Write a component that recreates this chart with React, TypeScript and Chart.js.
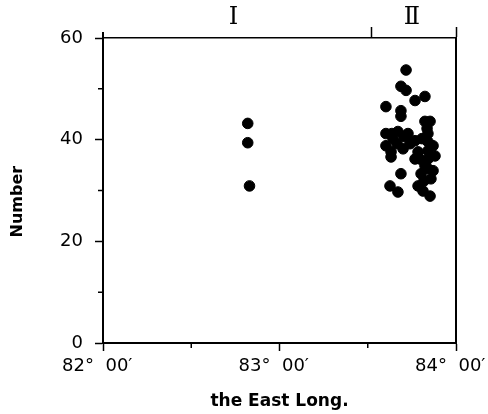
import { useEffect, useRef } from "react";
import { Chart, registerables } from "chart.js";

Chart.register(...registerables);

// Longitude in degrees (82°00' = 82.0), Number
const groupIX = [82.82, 82.82, 82.83];
const groupIY = [43.2, 39.4, 30.9];

const groupIIX = [
  83.717, 83.688, 83.717, 83.824, 83.768, 83.603, 83.688, 83.688, 83.824, 83.853,
  83.836, 83.603, 83.671, 83.728, 83.643, 83.768, 83.841, 83.841, 83.603, 83.632,
  83.7, 83.785, 83.841, 83.881, 83.632, 83.768, 83.841, 83.824, 83.841, 83.688,
  83.802, 83.858, 83.626, 83.671, 83.785, 83.813, 83.853,
  83.637, 83.705, 83.666, 83.739, 83.807, 83.87, 83.796, 83.87, 83.819,
];
const groupIIY = [
  53.7, 50.5, 49.7, 48.5, 47.7, 46.5, 45.7, 44.6, 43.6, 43.6,
  42.2, 41.2, 41.6, 41.2, 40.2, 39.8, 41.2, 39.6, 38.8, 37.6,
  38.2, 37.6, 37.8, 36.8, 36.6, 36.2, 36.2, 34.9, 34.3, 33.3,
  33.3, 32.3, 30.9, 29.7, 30.9, 29.9, 28.9,
  41.2, 40.6, 39.2, 39.2, 40.2, 38.8, 36.2, 33.9, 31.9,
];

const xMajorTicks = [82, 83, 84];
const xMinorTicks = [82.5, 83.5];
const yMajorTicks = [0, 20, 40, 60];
const yMinorTicks = [10, 30, 50];
const topLabelValues = [82.74, 83.75];
const topLabels = ["Ⅰ", "Ⅱ"];
const topTickValues = [83.52, 84];

const fmtLong = (v: number) => `${Math.round(v)}°  00′  `;

export default function App() {
  const ref = useRef<HTMLCanvasElement | null>(null);

  useEffect(() => {
    document.body.style.margin = "0";
    const canvas = ref.current;
    if (!canvas) return;

    const points = [
      ...groupIX.map((x, i) => ({ x, y: groupIY[i] })),
      ...groupIIX.map((x, i) => ({ x, y: groupIIY[i] })),
    ];

    const framePlugin = {
      id: "frame",
      afterDraw(chart: any) {
        const { ctx, chartArea, scales } = chart;
        const xs = scales.x;
        const ys = scales.y;
        ctx.save();
        ctx.strokeStyle = "#000";
        ctx.lineWidth = 2;
        ctx.beginPath();
        ctx.moveTo(chartArea.right, chartArea.top);
        ctx.lineTo(chartArea.right, chartArea.bottom);
        ctx.moveTo(chartArea.left, chartArea.top - 6);
        ctx.lineTo(chartArea.left, chartArea.top);
        ctx.stroke();
        ctx.lineWidth = 1.5;
        ctx.beginPath();
        for (const v of yMinorTicks) {
          const py = ys.getPixelForValue(v);
          ctx.moveTo(chartArea.left - 5, py);
          ctx.lineTo(chartArea.left, py);
        }
        for (const v of xMinorTicks) {
          const px = xs.getPixelForValue(v);
          ctx.moveTo(px, chartArea.bottom);
          ctx.lineTo(px, chartArea.bottom + 5);
        }
        ctx.stroke();
        ctx.restore();
      },
    };

    const chart = new Chart(canvas, {
      type: "scatter",
      data: {
        datasets: [
          {
            data: points,
            backgroundColor: "#000",
            borderColor: "#000",
            pointRadius: 5.3,
            pointHoverRadius: 5.3,
          },
        ],
      },
      options: {
        animation: false,
        responsive: false,
        devicePixelRatio: 1,
        layout: { padding: { left: 0, right: 32, top: 0, bottom: 0 } },
        plugins: {
          legend: { display: false },
          tooltip: { enabled: false },
        },
        scales: {
          x: {
            type: "linear",
            position: "bottom",
            min: 82,
            max: 84,
            afterBuildTicks: (s: any) => {
              s.ticks = xMajorTicks.map((v) => ({ value: v }));
            },
            afterFit: (s: any) => {
              s.height = 71;
              s.paddingLeft = 0;
              s.paddingRight = 0;
            },
            ticks: {
              autoSkip: false,
              maxRotation: 0,
              padding: 5,
              color: "#000",
              font: { family: "DejaVu Sans", size: 18 },
              callback: (v: any) => fmtLong(Number(v)),
            },
            grid: {
              drawOnChartArea: false,
              tickLength: 8,
              tickWidth: 1.5,
              color: "#000",
            },
            border: { display: true, color: "#000", width: 2 },
            title: {
              display: true,
              text: "the East Long.",
              color: "#000",
              font: { family: "DejaVu Sans", size: 17, weight: "bold" },
              padding: { top: 0, bottom: 2 },
            },
          },
          x2: {
            type: "linear",
            position: "top",
            min: 82,
            max: 84,
            afterBuildTicks: (s: any) => {
              s.ticks = [...topLabelValues, ...topTickValues]
                .sort((a, b) => a - b)
                .map((v) => ({ value: v }));
            },
            afterFit: (s: any) => {
              s.height = 38;
              s.paddingLeft = 0;
              s.paddingRight = 0;
            },
            ticks: {
              autoSkip: false,
              maxRotation: 0,
              padding: -5,
              color: "#000",
              font: { family: "DejaVu Serif", size: 24 },
              callback: (v: any) => {
                const i = topLabelValues.indexOf(Number(v));
                return i >= 0 ? topLabels[i] : "";
              },
            },
            grid: {
              drawOnChartArea: false,
              tickLength: 11,
              tickWidth: 1.5,
              color: (ctx: any) =>
                ctx.tick && topTickValues.includes(ctx.tick.value) ? "#000" : "rgba(0,0,0,0)",
            },
            border: { display: true, color: "#000", width: 1.5 },
          },
          y: {
            type: "linear",
            position: "left",
            min: 0,
            max: 60,
            afterBuildTicks: (s: any) => {
              s.ticks = yMajorTicks.map((v) => ({ value: v }));
            },
            afterFit: (s: any) => {
              s.width = 103;
            },
            ticks: {
              padding: 12,
              color: "#000",
              font: { family: "DejaVu Sans", size: 18 },
            },
            grid: {
              drawOnChartArea: false,
              tickLength: 8,
              tickWidth: 1.5,
              color: "#000",
            },
            border: { display: true, color: "#000", width: 2 },
            title: {
              display: true,
              text: "Number    ",
              color: "#000",
              font: { family: "DejaVu Sans", size: 16, weight: "bold" },
              padding: { top: 8, bottom: 0 },
            },
          },
        },
      },
      plugins: [framePlugin],
    });

    return () => chart.destroy();
  }, []);

  return (
    <div style={{ width: 488, height: 414 }}>
      <canvas ref={ref} width={488} height={414} style={{ width: 488, height: 414, display: "block" }} />
    </div>
  );
}
